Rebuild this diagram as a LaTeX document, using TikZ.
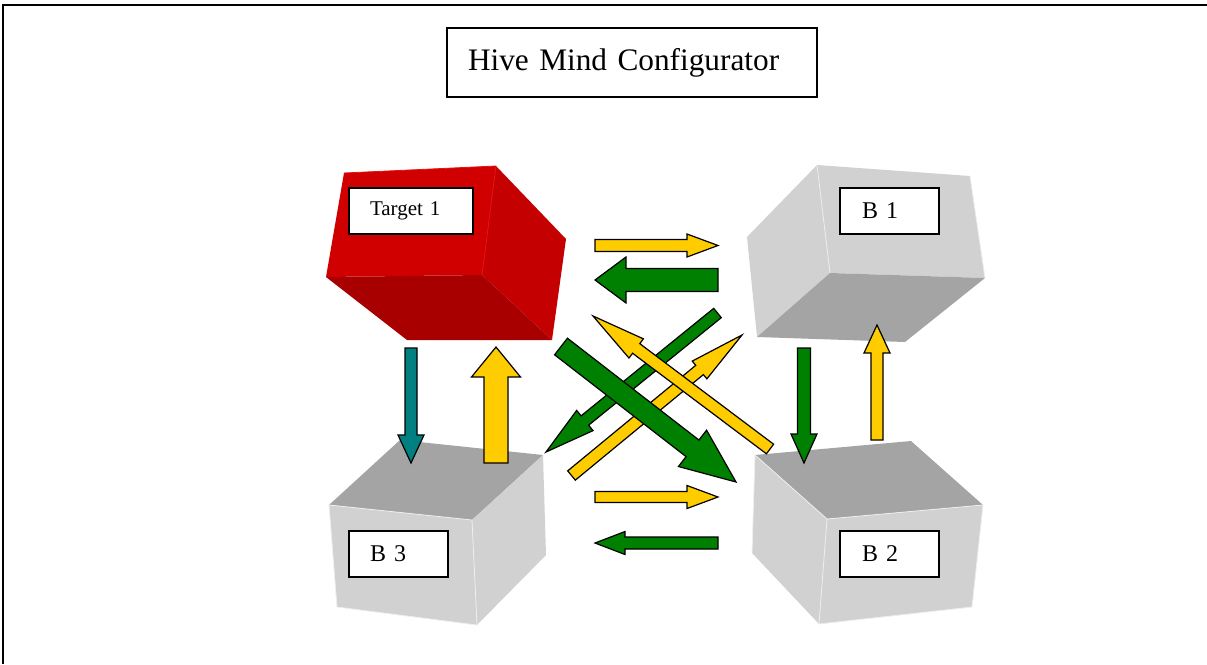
\documentclass[tikz,border=0pt]{standalone}
\usepackage{fontspec}
\setmainfont{Liberation Serif}
\usetikzlibrary{calc}
\definecolor{redF}{RGB}{208,0,0}
\definecolor{redR}{RGB}{196,0,0}
\definecolor{redB}{RGB}{168,0,0}
\definecolor{redE}{RGB}{232,16,16}
\definecolor{grayL}{RGB}{209,209,209}
\definecolor{grayD}{RGB}{164,164,164}
\definecolor{grayE}{RGB}{238,238,238}
\definecolor{yel}{RGB}{255,204,0}
\definecolor{grn}{RGB}{0,128,0}
\definecolor{tealc}{RGB}{0,128,128}
\newcommand\blockarr[6]{%
  \coordinate (ba-h) at ($(#3)!#6pt!(#2)$);
  \draw[#1] ($(#2)!#4pt!90:(#3)$) -- ($(ba-h)!#4pt!90:(#3)$) -- ($(ba-h)!#5pt!90:(#3)$) -- (#3)
    -- ($(ba-h)!#5pt!-90:(#3)$) -- ($(ba-h)!#4pt!-90:(#3)$) -- ($(#2)!#4pt!-90:(#3)$) -- cycle;
}
\tikzset{
  arr/.style={draw=black, line width=1.2pt, line join=miter},
  yarr/.style={arr, fill=yel},
  garr/.style={arr, fill=grn},
  tarr/.style={arr, fill=tealc},
  lblbox/.style={draw=black, line width=1.6pt, fill=white, rectangle, align=left, anchor=center},
  edgeline/.style={line width=0.8pt},
}
\begin{document}
\begin{tikzpicture}[x=1pt,y=-1pt]
\useasboundingbox (0,0) rectangle (1207,664);
% frame
\draw[line width=2pt] (1207,5) -- (3,5) -- (3,664);
% title
\node[draw=black, line width=1.2pt, fill=white, inner xsep=21pt, text width=328pt, minimum height=69pt, align=left, font=\fontsize{31.3}{36}\selectfont] (title) at (632,62.5) {Hive Mind Configurator};
% ---- red cube (Target 1)
\fill[redF] (344,173) -- (496,166) -- (482,275) -- (326,277) -- cycle;
\fill[redR] (496,166) -- (566,239) -- (552,340) -- (482,275) -- cycle;
\fill[redB] (326,277) -- (482,275) -- (552,340) -- (407,340) -- cycle;
\draw[redE, edgeline] (344,173) -- (496,166) -- (482,275);
% ---- B1 cube
\fill[grayL] (817,165) -- (970,176) -- (985,278) -- (830,273) -- cycle;
\fill[grayL] (817,165) -- (830,273) -- (757,337) -- (747,237) -- cycle;
\fill[grayD] (830,273) -- (985,278) -- (905,342) -- (757,337) -- cycle;
\draw[grayE, edgeline] (817,165) -- (830,273) (970,176) -- (985,278);
% ---- B3 cube
\fill[grayD] (329,505) -- (472,520) -- (543,455) -- (400,440) -- cycle;
\fill[grayL] (329,505) -- (472,520) -- (477,625) -- (337,607) -- cycle;
\fill[grayL] (472,520) -- (543,455) -- (546,555) -- (477,625) -- cycle;
\draw[grayE, edgeline] (329,505) -- (472,520) -- (477,625) -- (337,607) -- cycle;
% ---- B2 cube
\fill[grayD] (755,455) -- (827,519) -- (983,505) -- (911,441) -- cycle;
\fill[grayL] (755,455) -- (827,519) -- (819,624) -- (752,553) -- cycle;
\fill[grayL] (827,519) -- (983,505) -- (972,607) -- (819,624) -- cycle;
\draw[grayE, edgeline] (752,553) -- (755,455) -- (827,519) -- (983,505) -- (972,607) -- (819,624) -- (827,519);
% labels
\node[lblbox, inner xsep=21pt, text width=82pt, minimum height=46pt, font=\fontsize{21}{24}\selectfont] (t1) at (411,211) {Target 1};
\node[lblbox, inner xsep=22pt, text width=55pt, minimum height=46pt, font=\fontsize{24}{28}\selectfont] (b1) at (889.5,211) {B 1};
\node[lblbox, inner xsep=21pt, text width=57pt, minimum height=46pt, font=\fontsize{24}{28}\selectfont] (b3) at (398.5,554) {B 3};
\node[lblbox, inner xsep=22pt, text width=55pt, minimum height=46pt, font=\fontsize{24}{28}\selectfont] (b2) at (889.5,554) {B 2};
% ---- arrow end points
\coordinate (a1s) at (595,245.5); \coordinate (a1e) at (718,245.5);
\coordinate (a2s) at (718,280);   \coordinate (a2e) at (595,280);
\coordinate (a3s) at (717.5,313); \coordinate (a3e) at (546,452);
\coordinate (a4s) at (770,449);   \coordinate (a4e) at (593,316);
\coordinate (a5s) at (571.5,475.5); \coordinate (a5e) at (742,335);
\coordinate (a6s) at (561,346.5); \coordinate (a6e) at (736,482);
\coordinate (a7s) at (595,497);   \coordinate (a7e) at (718,497);
\coordinate (a8s) at (718,543);   \coordinate (a8e) at (595,543);
\coordinate (a9s) at (411,348);   \coordinate (a9e) at (411,463);
\coordinate (a10s) at (496,463);  \coordinate (a10e) at (496,347);
\coordinate (a11s) at (804,348);  \coordinate (a11e) at (804,463);
\coordinate (a12s) at (877,440);  \coordinate (a12e) at (877,325);
% ---- arrows
\blockarr{yarr}{a1s}{a1e}{6}{11.5}{31}
\blockarr{garr}{a2s}{a2e}{11.5}{23}{31}
\blockarr{garr}{a3s}{a3e}{6}{13}{50}
\blockarr{yarr}{a5s}{a5e}{6}{11.5}{55}
\blockarr{yarr}{a4s}{a4e}{6}{12}{54}
\blockarr{garr}{a6s}{a6e}{10.5}{23}{55}
\blockarr{yarr}{a7s}{a7e}{5.5}{11.5}{31}
\blockarr{garr}{a8s}{a8e}{6}{11.5}{30}
\blockarr{tarr}{a9s}{a9e}{6}{13}{28}
\blockarr{yarr}{a10s}{a10e}{12}{24.5}{30}
\blockarr{garr}{a11s}{a11e}{6.5}{13}{29}
\blockarr{yarr}{a12s}{a12e}{6}{13}{28}
\end{tikzpicture}
\end{document}
